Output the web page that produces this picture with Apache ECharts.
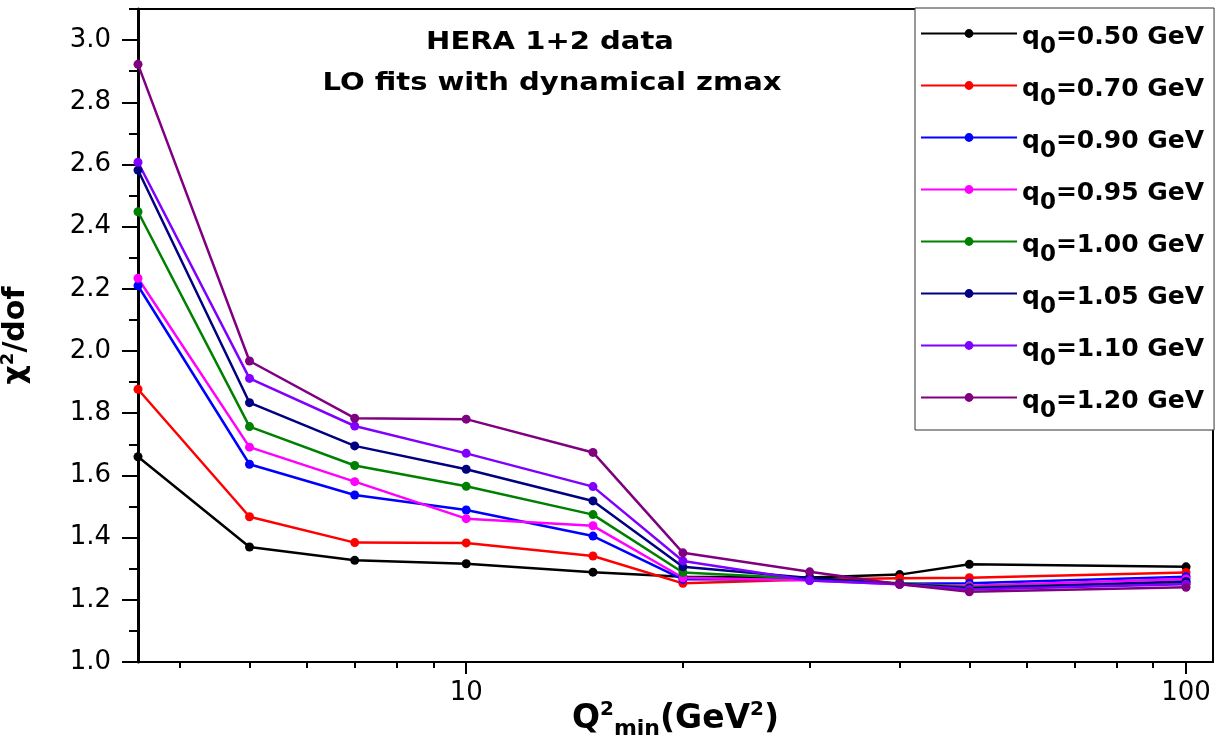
<!DOCTYPE html>
<html><head><meta charset="utf-8">
<script src="https://cdn.jsdelivr.net/npm/echarts@6/dist/echarts.min.js"></script>
<style>html,body{margin:0;padding:0;background:#fff}#c{width:1216px;height:750px}</style>
</head><body><div id="c"></div>
<script>
// ---- data ----
const q2min = [3.5, 5, 7, 10, 15, 20, 30, 40, 50, 100];
const q0Labels = ['0.50', '0.70', '0.90', '0.95', '1.00', '1.05', '1.10', '1.20'];
const chi_q050 = [1.660, 1.370, 1.327, 1.316, 1.289, 1.274, 1.272, 1.281, 1.314, 1.306];
const chi_q070 = [1.877, 1.467, 1.384, 1.383, 1.341, 1.253, 1.265, 1.269, 1.271, 1.288];
const chi_q090 = [2.210, 1.636, 1.537, 1.489, 1.405, 1.266, 1.265, 1.252, 1.253, 1.274];
const chi_q095 = [2.234, 1.691, 1.580, 1.461, 1.438, 1.271, 1.262, 1.250, 1.245, 1.267];
const chi_q100 = [2.448, 1.757, 1.632, 1.565, 1.474, 1.288, 1.268, 1.253, 1.240, 1.255];
const chi_q105 = [2.582, 1.834, 1.695, 1.620, 1.518, 1.306, 1.270, 1.252, 1.237, 1.259];
const chi_q110 = [2.607, 1.912, 1.759, 1.671, 1.564, 1.325, 1.262, 1.250, 1.233, 1.250];
const chi_q120 = [2.922, 1.968, 1.784, 1.781, 1.674, 1.351, 1.290, 1.250, 1.226, 1.240];
const xMajorTicks = [10, 100];
const xMinorTicks = [4, 5, 6, 7, 8, 9, 20, 30, 40, 50, 60, 70, 80, 90];
const yMajorTicks = [1.0, 1.2, 1.4, 1.6, 1.8, 2.0, 2.2, 2.4, 2.6, 2.8, 3.0];
const yMinorTicks = [1.1, 1.3, 1.5, 1.7, 1.9, 2.1, 2.3, 2.5, 2.7, 2.9, 3.1];

// ---- styling ----
const allSeries = [chi_q050, chi_q070, chi_q090, chi_q095, chi_q100, chi_q105, chi_q110, chi_q120];
const colors = ['#000000', '#ff0000', '#0000ff', '#ff00ff', '#008000', '#000080', '#8000ff', '#800080'];
const FF = '"DejaVu Sans", sans-serif';

const series = allSeries.map((vals, i) => ({
  name: 'q0=' + q0Labels[i] + ' GeV',
  type: 'line',
  xAxisIndex: 0, yAxisIndex: 0,
  data: q2min.map((x, j) => [x, vals[j]]),
  symbol: 'circle', symbolSize: 9,
  lineStyle: { width: 2.5, color: colors[i] },
  itemStyle: { color: colors[i] },
  emphasis: { disabled: true },
  animation: false
}));

const chart = echarts.init(document.getElementById('c'), null, { renderer: 'canvas' });
chart.setOption({
  animation: false,
  backgroundColor: '#fff',
  grid: { left: 138, right: 3, top: 9, bottom: 88, show: true, borderColor: '#000', borderWidth: 2, outerBoundsMode: 'none', containLabel: false },
  graphic: [
    { type: 'text', x: 550, y: 43, scaleX: 1.21, style: { text: 'HERA 1+2 data', font: 'bold 24px "DejaVu Sans"', fill: '#000', align: 'center', verticalAlign: 'middle' } },
    { type: 'text', x: 552, y: 84, scaleX: 1.21, style: { text: 'LO fits with dynamical zmax', font: 'bold 24px "DejaVu Sans"', fill: '#000', align: 'center', verticalAlign: 'middle' } }
  ],
  legend: {
    orient: 'vertical', left: 915, top: 8,
    padding: [0, 10, 7, 5], itemGap: 1,
    itemWidth: 96, itemHeight: 11,
    backgroundColor: '#fff', borderColor: '#333', borderWidth: 1,
    selectedMode: false,
    data: series.map(s => s.name),
    formatter: name => '{m|q}{s|0}{m|=' + name.slice(3) + '}',
    textStyle: {
      color: '#000',
      rich: {
        m: { fontFamily: FF, fontWeight: 'bold', fontSize: 25, lineHeight: 26, padding: [7, 0, 0, 0], verticalAlign: 'middle', color: '#000' },
        s: { fontFamily: FF, fontWeight: 'bold', fontSize: 23, lineHeight: 22, padding: [28, 0, 0, 0], verticalAlign: 'middle', color: '#000' }
      }
    }
  },
  xAxis: [
    {
      type: 'log', logBase: 10, min: 3.5, max: 109, position: 'bottom',
      axisLine: { show: true, lineStyle: { color: '#000', width: 2 } },
      axisTick: { show: true, customValues: xMajorTicks, length: 12, lineStyle: { color: '#000', width: 2 } },
      axisLabel: { show: true, customValues: xMajorTicks, margin: 18, fontFamily: FF, fontSize: 26, color: '#000', formatter: v => String(Math.round(v)) },
      splitLine: { show: false }, minorTick: { show: false },
      name: '{b|Q}{p|2}{d|min}{b|(GeV}{p|2}{b|)}', nameLocation: 'middle', nameGap: 40, nameMoveOverlap: false,
      nameTextStyle: {
        rich: {
          b: { fontFamily: FF, fontWeight: 'bold', fontSize: 33, lineHeight: 34, verticalAlign: 'middle', color: '#000' },
          p: { fontFamily: FF, fontWeight: 'bold', fontSize: 20, lineHeight: 20, padding: [0, 0, 18, 0], verticalAlign: 'middle', color: '#000' },
          d: { fontFamily: FF, fontWeight: 'bold', fontSize: 22, lineHeight: 22, padding: [20, 0, 0, 0], verticalAlign: 'middle', color: '#000' }
        }
      }
    },
    {
      type: 'log', logBase: 10, min: 3.5, max: 109, position: 'bottom',
      axisLine: { show: false },
      axisTick: { show: true, customValues: xMinorTicks, length: 6, lineStyle: { color: '#000', width: 2 } },
      axisLabel: { show: false }, splitLine: { show: false }
    }
  ],
  yAxis: [
    {
      type: 'value', min: 1.0, max: 3.1, interval: 0.2, position: 'left',
      axisLine: { show: true, lineStyle: { color: '#000', width: 3 } },
      axisTick: { show: true, customValues: yMajorTicks, length: 16, lineStyle: { color: '#000', width: 2 } },
      axisLabel: { show: true, customValues: yMajorTicks, margin: 27, fontFamily: FF, fontSize: 26, color: '#000', formatter: v => Number(v).toFixed(1) },
      splitLine: { show: false },
      name: '{b|χ}{p|2}{b|/dof}', nameLocation: 'middle', nameRotate: 90, nameGap: 107, nameMoveOverlap: false,
      nameTextStyle: {
        rich: {
          b: { fontFamily: FF, fontWeight: 'bold', fontSize: 30, lineHeight: 30, verticalAlign: 'middle', color: '#000' },
          p: { fontFamily: FF, fontWeight: 'bold', fontSize: 18, lineHeight: 20, padding: [0, 0, 16, 0], verticalAlign: 'middle', color: '#000' }
        }
      }
    },
    {
      type: 'value', min: 1.0, max: 3.1, interval: 0.2, position: 'left',
      axisLine: { show: false },
      axisTick: { show: true, customValues: yMinorTicks, length: 9, lineStyle: { color: '#000', width: 2 } },
      axisLabel: { show: false }, splitLine: { show: false }
    }
  ],
  series: series
});
</script>
</body></html>
